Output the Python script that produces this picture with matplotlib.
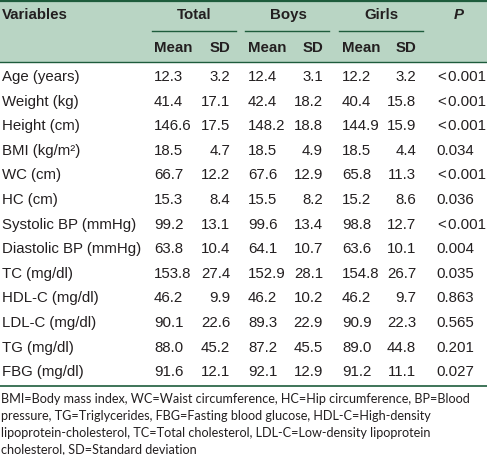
import matplotlib
matplotlib.use("Agg")
import matplotlib.pyplot as plt
from matplotlib.patches import Rectangle
from matplotlib import font_manager

variables = ["Age (years)", "Weight (kg)", "Height (cm)", "BMI (kg/m\u00b2)", "WC (cm)", "HC (cm)",
             "Systolic BP (mmHg)", "Diastolic BP (mmHg)", "TC (mg/dl)", "HDL-C (mg/dl)",
             "LDL-C (mg/dl)", "TG (mg/dl)", "FBG (mg/dl)"]
total_mean = [12.3, 41.4, 146.6, 18.5, 66.7, 15.3, 99.2, 63.8, 153.8, 46.2, 90.1, 88.0, 91.6]
total_sd = [3.2, 17.1, 17.5, 4.7, 12.2, 8.4, 13.1, 10.4, 27.4, 9.9, 22.6, 45.2, 12.1]
boys_mean = [12.4, 42.4, 148.2, 18.5, 67.6, 15.5, 99.6, 64.1, 152.9, 46.2, 89.3, 87.2, 92.1]
boys_sd = [3.1, 18.2, 18.8, 4.9, 12.9, 8.2, 13.4, 10.7, 28.1, 10.2, 22.9, 45.5, 12.9]
girls_mean = [12.2, 40.4, 144.9, 18.5, 65.8, 15.2, 98.8, 63.6, 154.8, 46.2, 90.9, 89.0, 91.2]
girls_sd = [3.2, 15.8, 15.9, 4.4, 11.3, 8.6, 12.7, 10.1, 26.7, 9.7, 22.3, 44.8, 11.1]
p_values = ["<0.001", "<0.001", "<0.001", "0.034", "<0.001", "0.036", "<0.001", "0.004",
            "0.035", "0.863", "0.565", "0.201", "0.027"]
groups = ["Total", "Boys", "Girls"]
footnote = ["BMI=Body mass index, WC=Waist circumference, HC=Hip circumference, BP=Blood",
            "pressure, TG=Triglycerides, FBG=Fasting blood glucose, HDL-C=High-density",
            "lipoprotein-cholesterol, TC=Total cholesterol, LDL-C=Low-density lipoprotein",
            "cholesterol, SD=Standard deviation"]

available = {f.name for f in font_manager.fontManager.ttflist}
tfont = "Liberation Sans Narrow" if "Liberation Sans Narrow" in available else "Liberation Sans"
ffont = "Lato"

W, H = 487, 455
fig = plt.figure(figsize=(W / 100, H / 100), dpi=100)
ax = fig.add_axes([0, 0, 1, 1])
ax.set_xlim(0, W)
ax.set_ylim(H, 0)
ax.axis("off")

band = "#b9d5c4"
dark = "#1e5c3c"
txt = "#231f20"
fs = 10.8

ax.add_patch(Rectangle((0, 0), W, 62, facecolor=band, edgecolor="none"))
ax.plot([0, W], [0.8, 0.8], color=dark, lw=1.6)
ax.plot([0, W], [62, 62], color=dark, lw=1.0)

# header
ax.text(2, 15, "Variables", fontsize=fs, fontweight="bold", family=tfont, color=txt, va="center", ha="left")
gcent = [194, 288, 381]
gspan = [(152, 236), (245, 329), (339, 423)]
mean_x = [154, 248, 342]
sd_x = [230, 323, 416]
for g, c, (a, b), mx, sx in zip(groups, gcent, gspan, mean_x, sd_x):
    ax.text(c, 15, g, fontsize=fs, fontweight="bold", family=tfont, color=txt, va="center", ha="center")
    ax.plot([a, b], [31, 31], color=dark, lw=1.0)
    ax.text(mx, 48, "Mean", fontsize=fs, fontweight="bold", family=tfont, color=txt, va="center", ha="left")
    ax.text(sx, 48, "SD", fontsize=fs, fontweight="bold", family=tfont, color=txt, va="center", ha="right")
ax.text(459, 15, "P", fontsize=fs, fontweight="bold", fontstyle="italic", family=tfont, color=txt,
        va="center", ha="center")

y0, dy = 77, 24.6
cols = [(total_mean, mean_x[0], "left"), (total_sd, sd_x[0], "right"),
        (boys_mean, mean_x[1], "left"), (boys_sd, sd_x[1], "right"),
        (girls_mean, mean_x[2], "left"), (girls_sd, sd_x[2], "right")]
for i, v in enumerate(variables):
    y = y0 + i * dy
    ax.text(2, y, v, fontsize=fs, family=tfont, color=txt, va="center", ha="left")
    for arr, x, ha in cols:
        ax.text(x, y, f"{arr[i]:.1f}", fontsize=fs, family=tfont, color=txt, va="center", ha=ha)
    p = p_values[i]
    if p.startswith("<"):
        ax.text(486, y, "<" + "\u200a" + p[1:], fontsize=fs, family=[tfont, "DejaVu Sans"], color=txt,
                va="center", ha="right")
    else:
        ax.text(455, y, p, fontsize=fs, family=tfont, color=txt, va="center", ha="center")

ax.plot([0, W], [386, 386], color=dark, lw=1.2)

for j, line in enumerate(footnote):
    ax.text(1, 399 + j * 16.8, line, fontsize=9.05, family=ffont, color=txt, va="center", ha="left")

fig.savefig("out.png", dpi=100)
